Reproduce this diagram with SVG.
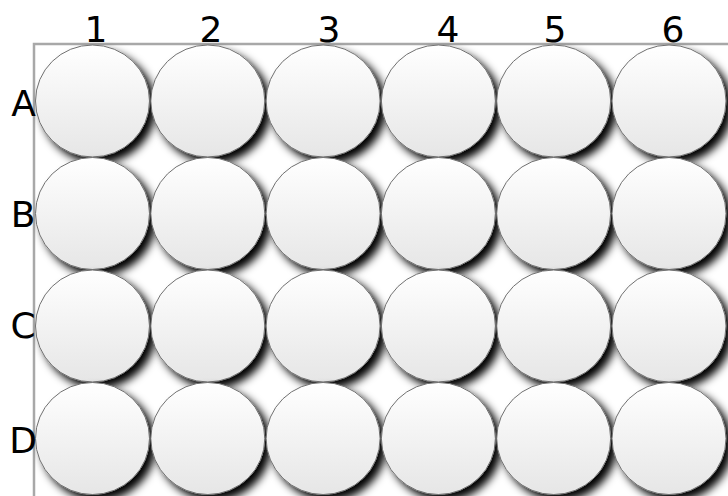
<svg xmlns="http://www.w3.org/2000/svg" width="728" height="496" viewBox="0 0 728 496">
<style>
.lbl{font-family:"DejaVu Sans",sans-serif;font-size:36px;fill:#000;text-anchor:middle}
.well{fill:url(#wg);stroke:#707070;stroke-width:1;filter:url(#sh)}
</style>
<defs>
<linearGradient id="wg" x1="0" y1="0" x2="0" y2="1">
<stop offset="0" stop-color="#ffffff"/>
<stop offset="1" stop-color="#e6e6e6"/>
</linearGradient>
<filter id="sh" x="-20%" y="-20%" width="150%" height="150%">
<feGaussianBlur in="SourceAlpha" stdDeviation="4"/>
<feOffset dx="6" dy="6" result="b"/>
<feFlood flood-color="#000" flood-opacity="1"/>
<feComposite in2="b" operator="in"/>
<feMerge><feMergeNode/><feMergeNode in="SourceGraphic"/></feMerge>
</filter>
</defs>
<rect width="728" height="496" fill="#fff"/>
<g id="frame"><path d="M34,496 V44 H728" fill="none" stroke="#a8a8a8" stroke-width="2.5"/></g>
<g id="wells">
<g id="row-A">
<ellipse class="well" cx="92.5" cy="101" rx="57" ry="56"/>
<ellipse class="well" cx="207.8" cy="101" rx="57" ry="56"/>
<ellipse class="well" cx="323.1" cy="101" rx="57" ry="56"/>
<ellipse class="well" cx="438.4" cy="101" rx="57" ry="56"/>
<ellipse class="well" cx="553.7" cy="101" rx="57" ry="56"/>
<ellipse class="well" cx="669" cy="101" rx="57" ry="56"/>
</g>
<g id="row-B">
<ellipse class="well" cx="92.5" cy="213.5" rx="57" ry="56"/>
<ellipse class="well" cx="207.8" cy="213.5" rx="57" ry="56"/>
<ellipse class="well" cx="323.1" cy="213.5" rx="57" ry="56"/>
<ellipse class="well" cx="438.4" cy="213.5" rx="57" ry="56"/>
<ellipse class="well" cx="553.7" cy="213.5" rx="57" ry="56"/>
<ellipse class="well" cx="669" cy="213.5" rx="57" ry="56"/>
</g>
<g id="row-C">
<ellipse class="well" cx="92.5" cy="326" rx="57" ry="56"/>
<ellipse class="well" cx="207.8" cy="326" rx="57" ry="56"/>
<ellipse class="well" cx="323.1" cy="326" rx="57" ry="56"/>
<ellipse class="well" cx="438.4" cy="326" rx="57" ry="56"/>
<ellipse class="well" cx="553.7" cy="326" rx="57" ry="56"/>
<ellipse class="well" cx="669" cy="326" rx="57" ry="56"/>
</g>
<g id="row-D">
<ellipse class="well" cx="92.5" cy="438.5" rx="57" ry="56"/>
<ellipse class="well" cx="207.8" cy="438.5" rx="57" ry="56"/>
<ellipse class="well" cx="323.1" cy="438.5" rx="57" ry="56"/>
<ellipse class="well" cx="438.4" cy="438.5" rx="57" ry="56"/>
<ellipse class="well" cx="553.7" cy="438.5" rx="57" ry="56"/>
<ellipse class="well" cx="669" cy="438.5" rx="57" ry="56"/>
</g>
</g>
<g id="col-labels">
<text class="lbl" x="96" y="42">1</text>
<text class="lbl" x="211" y="42">2</text>
<text class="lbl" x="329" y="42">3</text>
<text class="lbl" x="448" y="42">4</text>
<text class="lbl" x="555" y="42">5</text>
<text class="lbl" x="673" y="42">6</text>
</g>
<g id="row-labels">
<text class="lbl" x="23.5" y="116">A</text>
<text class="lbl" x="23" y="227">B</text>
<text class="lbl" x="23" y="338">C</text>
<text class="lbl" x="23" y="453">D</text>
</g>
</svg>
